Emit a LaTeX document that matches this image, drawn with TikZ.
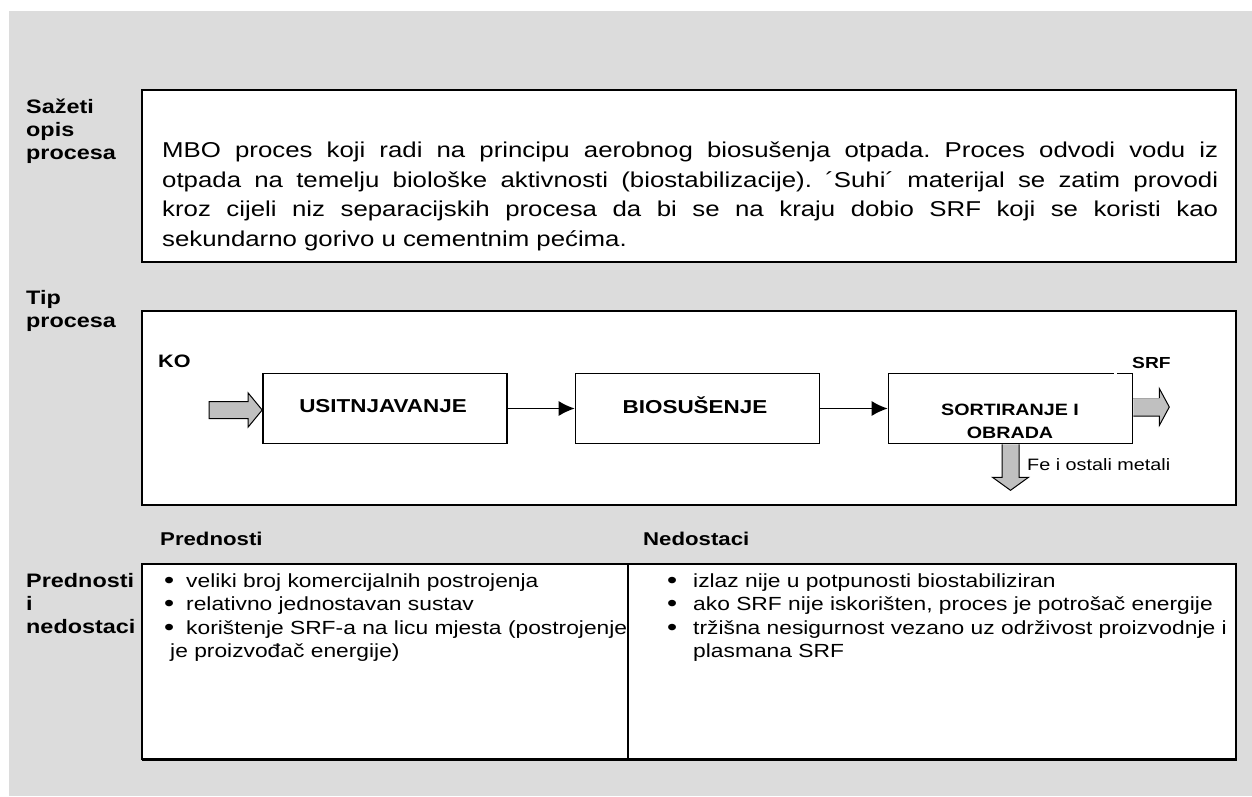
\documentclass[tikz,border=0pt]{standalone}
\usepackage{fontspec}
\setmainfont{Liberation Sans}[FakeStretch=1.2]
\usetikzlibrary{arrows.meta,calc}
\definecolor{sheet}{RGB}{220,220,220}
\definecolor{fillgray}{RGB}{192,192,192}
\newcommand\fsz[2]{\fontsize{#1}{#2}\selectfont}
\newcommand\dotmark{\raisebox{-1.3pt}{\fsz{24}{24}•}}

\begin{document}
\begin{tikzpicture}[x=1pt,y=-1pt,
  panel/.style={draw=black,line width=1.5pt,fill=white},
  stagebox/.style={draw=black,line width=1.6pt,fill=white,
    minimum width=244pt,minimum height=70pt,inner sep=0pt},
  stagetitle/.style={anchor=base,inner sep=0pt,font=\bfseries\fsz{18.7}{22}},
  rowlabel/.style={anchor=base west,inner sep=0pt,font=\bfseries\fsz{19.5}{23}},
  colhead/.style={anchor=base west,inner sep=0pt,font=\bfseries\fsz{18.5}{22}},
  note/.style={anchor=base west,inner sep=0pt},
  flow/.style={-{Latex[length=16pt,width=15pt]},line width=1.4pt},
  blockarrow/.style={fill=fillgray,draw=black,line width=1pt,line join=miter}
]
\useasboundingbox (0,0) rectangle (1252,796);
\fill[sheet] (9,11) rectangle (1252,796);

% --- three panels
\draw[panel] (142,90) rectangle (1236,262);
\draw[panel] (142,311) rectangle (1236,505);
\draw[panel] (142,564) rectangle (1236,759);
\draw[line width=1.5pt] (628,564) -- (628,759);
\draw[line width=1pt] (142,760.5) -- (1237,760.5);

% --- row labels
\node[rowlabel] (l1a) at (26,113) {Sažeti};
\node[rowlabel] (l1b) at (26,136) {opis};
\node[rowlabel] (l1c) at (26,159) {procesa};
\node[rowlabel] (l2a) at (26,304) {Tip};
\node[rowlabel] (l2b) at (26,327) {procesa};
\node[rowlabel] (l3a) at (26,587) {Prednosti};
\node[rowlabel] (l3b) at (26,610) {i};
\node[rowlabel] (l3c) at (26,633) {nedostaci};

% --- short description
\node[note] (desc) at (162,157.5) {\parbox[t]{1056pt}{\fsz{21.5}{29.7}%
  \frenchspacing\hyphenpenalty=10000\parindent=0pt
  MBO proces koji radi na principu aerobnog biosušenja otpada. Proces odvodi vodu iz\linebreak
  otpada na temelju biološke aktivnosti (biostabilizacije). ´Suhi´ materijal se zatim provodi\linebreak
  kroz cijeli niz separacijskih procesa da bi se na kraju dobio SRF koji se koristi kao\linebreak
  sekundarno gorivo u cementnim pećima.}};

% --- process chain
\node[stagebox] (usit) at (385,408.5) {};
\node[stagebox] (bio) at (697.5,408.5) {};
\node[stagebox] (sort) at (1010.5,408.5) {};
\node[stagetitle] (usitT) at (383,412) {USITNJAVANJE};
\node[stagetitle] (bioT) at (695,413) {BIOSUŠENJE};
\node[stagetitle,font=\bfseries\fsz{16.4}{22}] (sortT1) at (1010,415) {SORTIRANJE I};
\node[stagetitle,font=\bfseries\fsz{16.4}{22}] (sortT2) at (1010,438) {OBRADA};
\draw[white,line width=2pt] ($(sort.north east)+(-19,0)$) -- ($(sort.north east)+(-16,0)$);

\draw[flow] (usit.east) -- (bio.west);
\draw[flow] (bio.east) -- (sort.west);

% input stream
\node[note,font=\bfseries\fsz{18}{22}] (ko) at (158,367) {KO};
\draw[blockarrow,shift={($(usit.west)+(0,1.5)$)}]
  (0,0) -- (-14,-17) -- (-14,-8.5) -- (-53,-8.5) -- (-53,8.5) -- (-14,8.5) -- (-14,17) -- cycle;

% fuel output
\node[note,font=\bfseries\fsz{16}{20}] (srf) at (1132,368) {SRF};
\fill[fillgray,shift={($(sort.east)+(0,-1.5)$)}]
  (0,-9) -- (26,-9) -- (26,-18.5) -- (36,0) -- (26,18.5) -- (26,9) -- (0,9) -- cycle;
\draw[gray!70,line width=0.8pt,shift={($(sort.east)+(0,-1.5)$)}] (0,-9) -- (26,-9);
\draw[line width=1pt,line join=miter,shift={($(sort.east)+(0,-1.5)$)}]
  (26,-9) -- (26,-18.5) -- (36,0) -- (26,18.5) -- (26,9) -- (0,9);

% metals output
\draw[blockarrow,shift={(sort.south)}]
  (-8.5,0) -- (-8.5,33) -- (-18,33) -- (0,46) -- (18,33) -- (8.5,33) -- (8.5,0);
\node[note,font=\fsz{16.5}{20}] (fe) at (1027,470) {Fe i ostali metali};

% --- advantages and drawbacks
\node[colhead] (hA) at (160,545) {Prednosti};
\node[colhead] (hB) at (643,545) {Nedostaci};

\node[note] (pros) at (164,587) {\parbox[t]{600pt}{\fsz{19}{23.5}\raggedright\parindent=0pt
  \makebox[22pt][l]{\dotmark}veliki broj komercijalnih postrojenja\par
  \makebox[22pt][l]{\dotmark}relativno jednostavan sustav\par
  \makebox[22pt][l]{\dotmark}korištenje SRF-a na licu mjesta (postrojenje\par
  \hspace*{6pt}je proizvođač energije)}};

\node[note] (cons) at (667,587) {\parbox[t]{600pt}{\fsz{19}{23.5}\raggedright\parindent=0pt
  \makebox[26pt][l]{\dotmark}izlaz nije u potpunosti biostabiliziran\par
  \makebox[26pt][l]{\dotmark}ako SRF nije iskorišten, proces je potrošač energije\par
  \makebox[26pt][l]{\dotmark}tržišna nesigurnost vezano uz održivost proizvodnje i\par
  \hspace*{26pt}plasmana SRF}};
\end{tikzpicture}
\end{document}
